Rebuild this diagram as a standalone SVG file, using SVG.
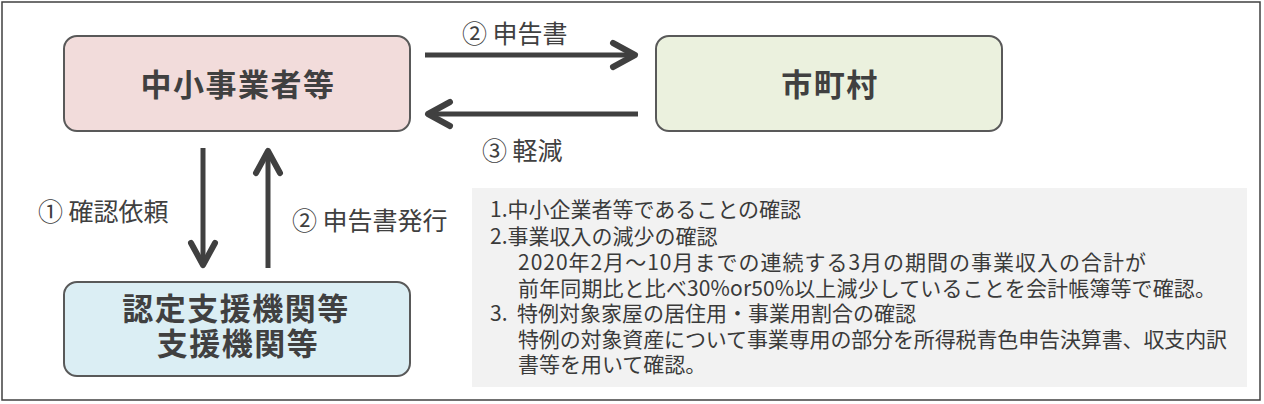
<svg xmlns="http://www.w3.org/2000/svg" width="1264" height="404" viewBox="0 0 1264 404">
<style>
.node{stroke:#595959;stroke-width:2}
.nt{font-family:"Noto Sans CJK JP","Noto Sans",sans-serif;font-weight:bold;font-size:31px;fill:#404040;text-anchor:middle;letter-spacing:1.5px}
.lbl{font-family:"Noto Sans CJK JP","Noto Sans",sans-serif;font-size:25px;fill:#404040}
.body{font-family:"Noto Sans CJK JP","Noto Sans",sans-serif;font-size:21px;fill:#3a3a3a}
.conn{stroke:#404040;stroke-width:5;fill:none}
</style>
<defs>
<marker id="chev" markerUnits="userSpaceOnUse" viewBox="-28 -18 34 36" refX="0" refY="0" markerWidth="34" markerHeight="36" orient="auto" overflow="visible">
<path d="M -22 -12 L 0 0 L -22 12" fill="none" stroke="#404040" stroke-width="6" stroke-linecap="round" stroke-linejoin="round"/>
</marker>
</defs>
<rect x="0" y="0" width="1264" height="404" fill="#ffffff"/>
<rect x="2" y="2" width="1258" height="398" fill="#ffffff" stroke="#404040" stroke-width="1.5"/>

<g id="connectors">
<line class="conn" x1="425" y1="55" x2="635" y2="55" marker-end="url(#chev)"/>
<line class="conn" x1="638" y1="114" x2="428" y2="114" marker-end="url(#chev)"/>
<line class="conn" x1="203" y1="148" x2="203" y2="265" marker-end="url(#chev)"/>
<line class="conn" x1="268" y1="268" x2="268" y2="151" marker-end="url(#chev)"/>
<text class="lbl" x="462" y="43">② 申告書</text>
<text class="lbl" x="482" y="160">③ 軽減</text>
<text class="lbl" x="38" y="221">① 確認依頼</text>
<text class="lbl" x="292" y="230">② 申告書発行</text>
</g>

<g id="node-sme">
<rect class="node" x="64" y="36" width="346" height="95" rx="13" fill="#f2dcdb"/>
<text class="nt" x="238" y="96">中小事業者等</text>
</g>

<g id="node-city">
<rect class="node" x="656" y="36" width="346" height="95" rx="13" fill="#ebf1de"/>
<text class="nt" x="830" y="96">市町村</text>
</g>

<g id="node-support">
<rect class="node" x="64" y="282" width="346" height="94" rx="13" fill="#dbeef4"/>
<text class="nt" x="236" y="320">認定支援機関等</text>
<text class="nt" x="238" y="355">支援機関等</text>
</g>

<g id="note">
<rect x="472" y="188" width="775" height="199" fill="#f2f2f2"/>
<text class="body" x="490" y="217">1.中小企業者等であることの確認</text>
<text class="body" x="490" y="244">2.事業収入の減少の確認</text>
<text class="body" x="518" y="270" textLength="628">2020年2月～10月までの連続する3月の期間の事業収入の合計が</text>
<text class="body" x="518" y="296" textLength="698">前年同期比と比べ30%or50%以上減少していることを会計帳簿等で確認。</text>
<text class="body" x="490" y="321">3. <tspan x="517">特例対象家屋の居住用・事業用割合の確認</tspan></text>
<text class="body" x="518" y="347" textLength="709">特例の対象資産について事業専用の部分を所得税青色申告決算書、収支内訳</text>
<text class="body" x="518" y="372">書等を用いて確認。</text>
</g>
</svg>
